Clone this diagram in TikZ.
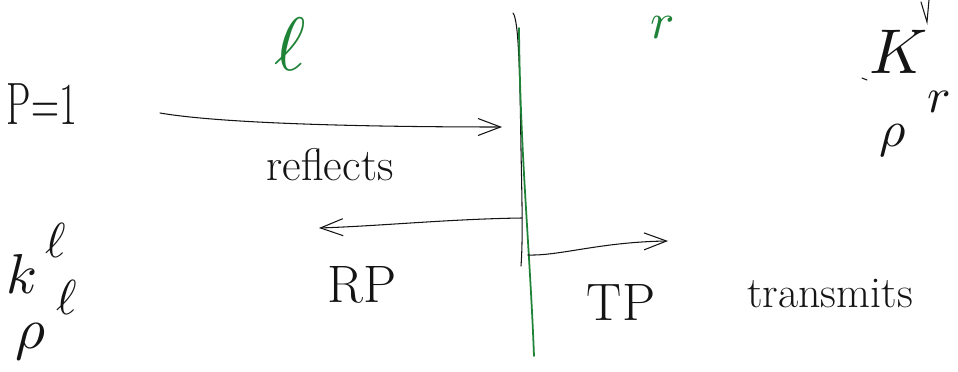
\documentclass[tikz,border=0pt]{standalone}
\usetikzlibrary{arrows.meta}
\definecolor{pen}{RGB}{20,20,20}
\definecolor{greenpen}{RGB}{30,130,55}
\tikzset{
  ink/.style={draw=pen,line width=0.6pt,line cap=round},
  greenink/.style={draw=greenpen,line width=1pt,line cap=round},
  barb/.style={-{Straight Barb[length=4.5mm,width=3.4mm,line width=0.6pt]}},
  lbl/.style={inner sep=0pt,text=pen},
  glbl/.style={inner sep=0pt,text=greenpen},
}
\newcommand{\fs}[1]{\fontsize{#1}{#1}\selectfont}
\newcommand{\mysym}[2]{\scalebox{#1}{$#2$}}
\begin{document}
\begin{tikzpicture}[x=0.02cm,y=-0.02cm]
\useasboundingbox (0,0) rectangle (958,372);
% labels
\node[lbl] (p1) at (42,104) {\scalebox{0.65}[1]{\fs{34}P=1}};
\node[glbl] (ell) at (290,44) {\mysym{4.3}{\ell}};
\node[glbl] (rr) at (663,28) {\mysym{2.9}{r}};
\node[lbl] (K) at (899,52) {\mysym{3.6}{K}};
\node[lbl] (rsub) at (939,102) {\mysym{2.8}{r}};
\node[lbl] (rhor) at (893,140) {\mysym{2.9}{\rho}};
\node[lbl] (kl) at (22,274) {\mysym{3.2}{k}};
\node[lbl] (klsup) at (56,240) {\mysym{2.8}{\ell}};
\node[lbl] (rhol) at (30,342) {\mysym{3.3}{\rho}};
\node[lbl] (rholsup) at (67,297) {\mysym{2.8}{\ell}};
\node[lbl] (refl) at (330,165) {\fs{26}reflects};
\node[lbl] (rp) at (362,285) {\fs{30}RP};
\node[lbl] (tp) at (621,302) {\fs{30}TP};
\node[lbl] (trans) at (830,294) {\fs{25}transmits};
% small strokes top right
\coordinate (v1) at (921,2);
\coordinate (v2) at (927,22);
\coordinate (v3) at (929,0);
\draw[ink] (v1) -- (v2) -- (v3);
\coordinate (d1) at (862,78);
\coordinate (d2) at (867,80);
\draw[ink] (d1) -- (d2);
% interface lines
\coordinate (b0) at (513,13);
\coordinate (b1) at (521,266);
\draw[ink] (b0) .. controls (519,20) and (520,80) .. (521,150) .. controls (522,200) and (523,240) .. (b1);
\coordinate (g0) at (519,28);
\coordinate (g1) at (534,356);
\draw[greenink] (g0) .. controls (520,150) and (530,250) .. (g1);
% arrows
\coordinate (a0) at (160,113);
\coordinate (a1) at (502,127);
\draw[ink,barb] (a0) .. controls (230,125) and (400,127) .. (a1);
\coordinate (l0) at (522,218);
\coordinate (l1) at (319,228);
\draw[ink,barb] (l0) .. controls (450,219) and (380,226) .. (l1);
\coordinate (r0) at (528,255);
\coordinate (r1) at (668,241);
\draw[ink,barb] (r0) .. controls (560,256) and (600,242) .. (r1);
\end{tikzpicture}
\end{document}
